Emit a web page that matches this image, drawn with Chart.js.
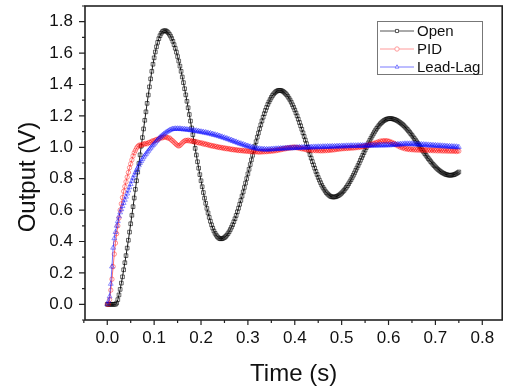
<!DOCTYPE html>
<html lang="en">
<head>
  <meta charset="UTF-8">
  <title>Output response</title>
  <script src="https://cdn.jsdelivr.net/npm/chart.js"></script>
  <style>
    html, body{margin:0; padding:0; background:#fff;}
    #wrap{width:507px; height:387px;}
  </style>
</head>
<body>
  <div id="wrap">
    <canvas id="myChart" width="507" height="387"></canvas>
  </div>
  <script>
    // sample times (s)
    const times = [
      0,0.0025,0.005,0.0075,0.01,0.0125,0.015,0.0175,0.02,0.0225,0.025,0.0275,0.03,0.0325,0.035,0.0375,0.04,0.0425,0.045,0.0475,
      0.05,0.0525,0.055,0.0575,0.06,0.0625,0.065,0.0675,0.07,0.0725,0.075,0.0775,0.08,0.0825,0.085,0.0875,0.09,0.0925,0.095,0.0975,
      0.1,0.1025,0.105,0.1075,0.11,0.1125,0.115,0.1175,0.12,0.1225,0.125,0.1275,0.13,0.1325,0.135,0.1375,0.14,0.1425,0.145,0.1475,
      0.15,0.1525,0.155,0.1575,0.16,0.1625,0.165,0.1675,0.17,0.1725,0.175,0.1775,0.18,0.1825,0.185,0.1875,0.19,0.1925,0.195,0.1975,
      0.2,0.2025,0.205,0.2075,0.21,0.2125,0.215,0.2175,0.22,0.2225,0.225,0.2275,0.23,0.2325,0.235,0.2375,0.24,0.2425,0.245,0.2475,
      0.25,0.2525,0.255,0.2575,0.26,0.2625,0.265,0.2675,0.27,0.2725,0.275,0.2775,0.28,0.2825,0.285,0.2875,0.29,0.2925,0.295,0.2975,
      0.3,0.3025,0.305,0.3075,0.31,0.3125,0.315,0.3175,0.32,0.3225,0.325,0.3275,0.33,0.3325,0.335,0.3375,0.34,0.3425,0.345,0.3475,
      0.35,0.3525,0.355,0.3575,0.36,0.3625,0.365,0.3675,0.37,0.3725,0.375,0.3775,0.38,0.3825,0.385,0.3875,0.39,0.3925,0.395,0.3975,
      0.4,0.4025,0.405,0.4075,0.41,0.4125,0.415,0.4175,0.42,0.4225,0.425,0.4275,0.43,0.4325,0.435,0.4375,0.44,0.4425,0.445,0.4475,
      0.45,0.4525,0.455,0.4575,0.46,0.4625,0.465,0.4675,0.47,0.4725,0.475,0.4775,0.48,0.4825,0.485,0.4875,0.49,0.4925,0.495,0.4975,
      0.5,0.5025,0.505,0.5075,0.51,0.5125,0.515,0.5175,0.52,0.5225,0.525,0.5275,0.53,0.5325,0.535,0.5375,0.54,0.5425,0.545,0.5475,
      0.55,0.5525,0.555,0.5575,0.56,0.5625,0.565,0.5675,0.57,0.5725,0.575,0.5775,0.58,0.5825,0.585,0.5875,0.59,0.5925,0.595,0.5975,
      0.6,0.6025,0.605,0.6075,0.61,0.6125,0.615,0.6175,0.62,0.6225,0.625,0.6275,0.63,0.6325,0.635,0.6375,0.64,0.6425,0.645,0.6475,
      0.65,0.6525,0.655,0.6575,0.66,0.6625,0.665,0.6675,0.67,0.6725,0.675,0.6775,0.68,0.6825,0.685,0.6875,0.69,0.6925,0.695,0.6975,
      0.7,0.7025,0.705,0.7075,0.71,0.7125,0.715,0.7175,0.72,0.7225,0.725,0.7275,0.73,0.7325,0.735,0.7375,0.74,0.7425,0.745,0.7475,
      0.75
    ];

    // open loop output (V)
    const openLoop = [
      0,0,0,0,0,0,0,0,0.008,0.030,0.060,0.095,0.135,0.175,0.220,0.265,0.310,0.358,0.408,0.460,
      0.513,0.567,0.622,0.677,0.732,0.787,0.842,0.897,0.952,1.007,1.062,1.117,1.172,1.226,1.280,1.333,1.385,1.436,1.484,1.529,
      1.570,1.607,1.640,1.668,1.692,1.711,1.726,1.736,1.741,1.743,1.742,1.737,1.730,1.720,1.708,1.693,1.675,1.654,1.631,1.606,
      1.578,1.549,1.517,1.484,1.448,1.412,1.373,1.334,1.293,1.252,1.209,1.167,1.123,1.080,1.037,0.993,0.951,0.908,0.867,0.826,
      0.787,0.749,0.712,0.676,0.643,0.611,0.582,0.554,0.529,0.506,0.485,0.467,0.452,0.440,0.430,0.423,0.418,0.417,0.418,0.421,
      0.425,0.432,0.440,0.450,0.462,0.476,0.491,0.507,0.526,0.545,0.566,0.589,0.612,0.637,0.662,0.689,0.716,0.744,0.772,0.801,
      0.831,0.860,0.890,0.920,0.949,0.979,1.008,1.036,1.064,1.091,1.118,1.143,1.168,1.192,1.214,1.235,1.254,1.273,1.289,1.304,
      1.318,1.330,1.340,1.348,1.355,1.359,1.362,1.363,1.362,1.360,1.356,1.350,1.343,1.335,1.325,1.313,1.301,1.287,1.271,1.255,
      1.238,1.219,1.200,1.179,1.158,1.137,1.115,1.092,1.069,1.046,1.023,1.000,0.977,0.954,0.931,0.909,0.888,0.867,0.846,0.827,
      0.808,0.791,0.775,0.759,0.745,0.733,0.721,0.711,0.703,0.696,0.690,0.686,0.684,0.683,0.684,0.685,0.688,0.692,0.696,0.702,
      0.709,0.717,0.725,0.735,0.745,0.756,0.768,0.781,0.794,0.808,0.822,0.837,0.853,0.868,0.884,0.900,0.917,0.933,0.949,0.966,
      0.982,0.998,1.013,1.029,1.044,1.058,1.072,1.085,1.098,1.110,1.121,1.131,1.141,1.150,1.157,1.164,1.170,1.174,1.178,1.181,
      1.182,1.183,1.183,1.182,1.180,1.178,1.175,1.171,1.167,1.162,1.157,1.151,1.145,1.138,1.130,1.122,1.114,1.105,1.096,1.086,
      1.077,1.066,1.056,1.046,1.035,1.024,1.013,1.003,0.992,0.981,0.970,0.959,0.949,0.938,0.928,0.919,0.909,0.900,0.891,0.883,
      0.875,0.867,0.860,0.854,0.848,0.843,0.838,0.834,0.830,0.827,0.825,0.823,0.822,0.822,0.823,0.824,0.826,0.829,0.833,0.838,
      0.843
    ];

    // PID controlled output (V)
    const pidOut = [
      0,0,0.03,0.09,0.16,0.24,0.32,0.39,0.45,0.50,0.55,0.60,0.64,0.68,0.72,0.75,0.78,0.81,0.84,0.87,
      0.895,0.92,0.945,0.965,0.98,0.995,1.005,1.012,1.015,1.012,1.018,1.022,1.02,1.025,1.022,1.028,1.032,1.03,1.038,1.042,
      1.04,1.046,1.05,1.048,1.055,1.058,1.062,1.06,1.066,1.064,1.068,1.062,1.058,1.06,1.052,1.045,1.04,1.032,1.025,1.018,
      1.012,1.008,1.012,1.02,1.028,1.035,1.04,1.044,1.042,1.046,1.04,1.044,1.038,1.04,1.034,1.038,1.03,1.034,1.028,1.03,
      1.025,1.028,1.02,1.024,1.018,1.02,1.014,1.016,1.01,1.012,1.006,1.01,1.004,1.006,1.0,1.003,0.998,1.0,0.995,0.998,
      0.992,
      0.995,0.99,0.993,0.988,0.99,0.985,0.988,0.983,0.986,0.981,0.984,0.979,0.982,0.978,0.981,0.976,0.98,0.975,0.978,0.974,
      0.977,0.972,0.976,0.971,0.975,0.97,0.974,0.97,0.973,0.969,0.974,0.97,0.975,0.971,0.976,0.972,0.977,0.973,0.978,0.975,
      0.98,0.976,0.982,0.978,0.984,0.981,0.987,0.984,0.99,0.987,0.993,0.99,0.996,0.993,0.998,0.995,1.0,0.997,1.002,0.998,
      1.001,0.996,0.999,0.993,0.996,0.99,0.993,0.987,0.99,0.984,0.988,0.982,0.986,0.98,0.985,0.979,0.984,0.978,0.983,0.978,
      0.982,0.977,0.982,0.977,0.983,0.978,0.984,0.979,0.985,0.98,0.986,0.982,0.988,0.984,0.99,0.986,0.992,0.988,0.994,0.99,
      0.995,0.991,0.996,0.992,0.997,0.993,0.998,0.994,0.999,0.995,1.0,0.997,1.002,0.998,1.004,1.0,1.006,1.003,1.009,1.006,
      1.012,1.009,1.016,1.013,1.02,1.017,1.025,1.022,1.03,1.027,1.035,1.032,1.04,1.036,1.042,1.038,1.043,1.038,1.042,1.036,
      1.038,1.031,1.032,1.024,1.025,1.016,1.017,1.008,1.01,1.0,1.003,0.995,0.998,0.99,0.994,0.987,0.992,0.985,0.99,0.984,
      0.989,0.983,0.988,0.982,0.988,0.981,0.987,0.981,0.987,0.98,0.986,0.98,0.986,0.979,0.985,0.979,0.985,0.978,0.984,0.978,
      0.984,0.977,0.983,0.977,0.983,0.976,0.982,0.976,0.982,0.975,0.981,0.975,0.981,0.974,0.98,0.974,0.979,0.973,0.978,0.976
    ];

    // lead-lag compensated output (V)
    const leadLag = [
      0,0.02,0.05,0.13,0.24,0.36,0.42,0.46,0.50,0.53,0.56,0.585,0.605,0.625,0.645,0.665,0.685,0.705,0.725,0.745,
      0.765,0.785,0.805,0.822,0.84,0.855,0.87,0.885,0.90,0.912,0.924,0.936,0.947,0.957,0.967,0.977,0.987,0.996,1.005,1.014,
      1.022,1.03,1.04,1.048,1.056,1.064,1.07,1.077,1.083,1.088,1.094,1.099,1.104,1.108,1.112,1.114,1.118,1.116,1.12,1.117,
      1.12,
      1.116,1.12,1.115,1.118,1.113,1.117,1.112,1.115,1.11,1.113,1.108,1.111,1.105,1.109,1.103,1.107,1.1,1.104,1.098,1.101,
      1.095,1.099,1.092,1.096,1.089,1.093,1.086,1.09,1.082,1.086,1.078,1.082,1.074,1.078,1.07,1.073,1.065,1.068,1.06,1.063,
      1.055,1.058,1.05,1.052,1.044,1.047,1.039,1.041,1.033,1.036,1.028,1.03,1.022,1.025,1.017,1.02,1.012,1.014,1.007,1.01,
      1.003,1.005,0.998,1.001,0.994,0.997,0.99,0.994,0.988,0.992,0.986,0.99,0.985,0.99,0.984,0.989,0.984,0.989,0.985,0.99,
      0.986,0.991,0.987,0.992,0.988,0.993,0.989,0.994,0.99,0.995,0.991,0.996,0.992,0.997,0.993,0.998,0.993,0.998,0.994,0.999,
      0.995,1.0,0.995,1.001,0.996,1.001,0.996,1.002,0.997,1.002,0.997,1.003,0.998,1.003,0.998,1.004,0.999,1.004,0.999,1.005,
      1.0,1.005,1.0,1.006,1.001,1.006,1.001,1.007,1.002,1.007,1.002,1.008,1.003,1.008,1.003,1.009,1.004,1.009,1.004,1.01,
      1.005,1.01,1.005,1.011,1.006,1.011,1.006,1.012,1.007,1.012,1.007,1.012,1.007,1.013,1.008,1.013,1.008,1.013,1.008,1.014,
      1.009,1.014,1.009,1.014,1.009,1.015,1.01,1.015,1.01,1.015,1.01,1.016,1.011,1.016,1.011,1.016,1.011,1.017,1.012,1.017,
      1.012,1.018,1.013,1.019,1.014,1.02,1.015,1.021,1.016,1.022,1.017,1.023,1.018,1.024,1.019,1.024,1.019,1.024,1.019,1.024,
      1.018,1.023,1.017,1.022,1.016,1.021,1.015,1.02,1.014,1.019,1.013,1.018,1.012,1.017,1.011,1.016,1.01,1.015,1.009,1.014,
      1.008,1.013,1.007,1.012,1.006,1.011,1.005,1.01,1.004,1.009,1.003,1.008,1.002,1.007,1.001,1.006,1.0,1.005,0.999,1.002
    ];

    const seriesNames = ['Open', 'PID', 'Lead-Lag'];

    // axis ticks
    const xTicks = [0, 0.1, 0.2, 0.3, 0.4, 0.5, 0.6, 0.7, 0.8];
    const xMinor = [-0.05, 0.05, 0.15, 0.25, 0.35, 0.45, 0.55, 0.65, 0.75];
    const yTicks = [0, 0.2, 0.4, 0.6, 0.8, 1.0, 1.2, 1.4, 1.6, 1.8];
    const yMinor = [-0.1, 0.1, 0.3, 0.5, 0.7, 0.9, 1.1, 1.3, 1.5, 1.7, 1.9];

    const FONT = '"Liberation Sans", Arial, sans-serif';

    // frame, tick marks, axis titles and legend box
    const decor = {
      id: 'decor',
      afterDraw(chart) {
        const ctx = chart.ctx;
        const a = chart.chartArea;
        const x = chart.scales.x, y = chart.scales.y;
        ctx.save();

        // ticks (outward)
        ctx.strokeStyle = '#222';
        ctx.lineWidth = 1.2;
        ctx.beginPath();
        xTicks.forEach(v => { const p = x.getPixelForValue(v); ctx.moveTo(p, a.bottom); ctx.lineTo(p, a.bottom + 5); });
        xMinor.forEach(v => { const p = x.getPixelForValue(v); ctx.moveTo(p, a.bottom); ctx.lineTo(p, a.bottom + 3); });
        yTicks.forEach(v => { const p = y.getPixelForValue(v); ctx.moveTo(a.left, p); ctx.lineTo(a.left - 6, p); });
        yMinor.forEach(v => { const p = y.getPixelForValue(v); ctx.moveTo(a.left, p); ctx.lineTo(a.left - 3, p); });
        ctx.stroke();

        // box
        ctx.lineWidth = 1.6;
        ctx.strokeRect(a.left, a.top, a.right - a.left, a.bottom - a.top);

        // axis titles
        ctx.fillStyle = '#111';
        ctx.font = '24px ' + FONT;
        ctx.textAlign = 'center';
        ctx.textBaseline = 'alphabetic';
        ctx.fillText('Time (s)', (a.left + a.right) / 2, 381);
        ctx.save();
        ctx.translate(35, 177);
        ctx.rotate(-Math.PI / 2);
        ctx.fillText('Output (V)', 0, 0);
        ctx.restore();

        // legend
        const lx = 377.5, ly = 21.5, lw = 105, lh = 53;
        ctx.fillStyle = '#fff';
        ctx.fillRect(lx, ly, lw, lh);
        ctx.strokeStyle = '#777';
        ctx.lineWidth = 1;
        ctx.strokeRect(lx, ly, lw, lh);
        ctx.font = '15px ' + FONT;
        ctx.textAlign = 'left';
        ctx.textBaseline = 'middle';
        chart.data.datasets.forEach((ds, i) => {
          const ry = 31 + i * 18;
          ctx.strokeStyle = ds.legendColor;
          ctx.lineWidth = 1;
          ctx.beginPath();
          ctx.moveTo(380, ry);
          ctx.lineTo(414, ry);
          ctx.stroke();
          ctx.fillStyle = '#fff';
          Chart.helpers.drawPoint(ctx, {pointStyle: ds.pointStyle, radius: 2.2, borderWidth: 1, rotation: 0}, 397, ry);
          ctx.fillStyle = '#111';
          ctx.fillText(ds.label, 417, ry + 1);
        });
        ctx.restore();
      }
    };

    // drop the label padding chart.js reserves, the plot box is fixed
    const noPad = s => { s.paddingTop = 0; s.paddingBottom = 0; s.paddingLeft = 0; s.paddingRight = 0; };

    const ctx = document.getElementById('myChart');
    new Chart(ctx, {
      type: 'line',
      data: {
        labels: times,
        datasets: [
          {
            label: seriesNames[0],
            data: openLoop,
            order: 3,
            borderColor: '#000',
            borderWidth: 0.9,
            pointStyle: 'rect',
            pointRadius: 2.6,
            pointBorderWidth: 0.8,
            pointBorderColor: 'rgba(0,0,0,0.75)',
            pointBackgroundColor: 'rgba(255,255,255,0)',
            legendColor: '#555'
          },
          {
            label: seriesNames[1],
            data: pidOut,
            order: 2,
            borderColor: 'rgba(255,0,0,0.8)',
            borderWidth: 0.7,
            pointStyle: 'circle',
            pointRadius: 2.2,
            pointBorderWidth: 0.6,
            pointBorderColor: 'rgba(255,0,0,0.7)',
            pointBackgroundColor: 'rgba(255,255,255,0)',
            legendColor: '#ff9a9a'
          },
          {
            label: seriesNames[2],
            data: leadLag,
            order: 1,
            borderColor: 'rgba(0,0,255,0.8)',
            borderWidth: 0.7,
            pointStyle: 'triangle',
            pointRadius: 2.8,
            pointBorderWidth: 0.6,
            pointBorderColor: 'rgba(0,0,255,0.7)',
            pointBackgroundColor: 'rgba(255,255,255,0)',
            legendColor: '#7a7aff'
          }
        ]
      },
      options: {
        responsive: false,
        animation: false,
        devicePixelRatio: 1,
        layout: { padding: { top: 6, right: 3, left: 0, bottom: 0 } },
        elements: { line: { tension: 0 } },
        plugins: { legend: { display: false }, tooltip: { enabled: false } },
        scales: {
          x: {
            type: 'linear',
            min: -0.0475,
            max: 0.8425,
            afterBuildTicks: s => { s.ticks = xTicks.map(v => ({ value: v })); },
            afterFit: s => { s.height = 67; noPad(s); },
            grid: { display: false, drawTicks: false },
            border: { display: false },
            ticks: {
              autoSkip: false,
              maxRotation: 0,
              padding: 8,
              color: '#111',
              font: { family: FONT, size: 17 },
              callback: v => Number(v).toFixed(1)
            }
          },
          y: {
            min: -0.1,
            max: 1.9,
            afterBuildTicks: s => { s.ticks = yTicks.map(v => ({ value: v })); },
            afterFit: s => { s.width = 85; noPad(s); },
            grid: { display: false, drawTicks: false },
            border: { display: false },
            ticks: {
              autoSkip: false,
              padding: 12,
              color: '#111',
              font: { family: FONT, size: 17 },
              callback: v => Number(v).toFixed(1)
            }
          }
        }
      },
      plugins: [decor]
    });
  </script>
</body>
</html>
